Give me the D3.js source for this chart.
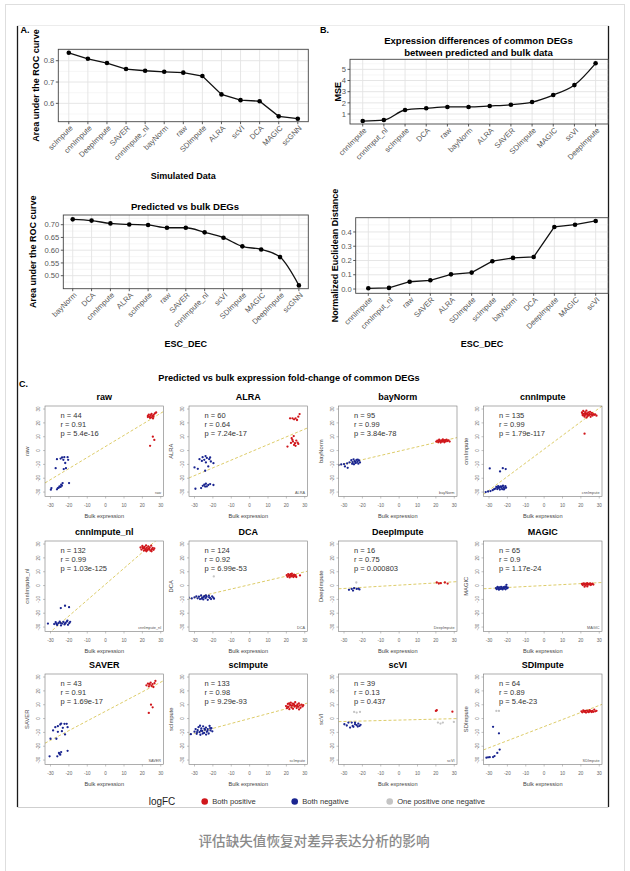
<!DOCTYPE html>
<html><head><meta charset="utf-8">
<script src="https://cdn.jsdelivr.net/npm/d3@7"></script>
<style>
body{margin:0;background:#fff}
text{font-family:"Liberation Sans",Arial,Helvetica,sans-serif}
</style>
</head><body>
<svg id="c" width="630" height="871"></svg>
<script>
// ---------------- DATA ----------------
const simMethods = ["scImpute","cnnImpute","DeepImpute","SAVER","cnnImpute_nl","bayNorm","raw","SDImpute","ALRA","scVI","DCA","MAGIC","scGNN"];
const simAUC = [0.837,0.809,0.789,0.761,0.753,0.748,0.744,0.728,0.642,0.615,0.610,0.539,0.528];
const simTicks = [0.6,0.7,0.8];
const simMinor = [0.55,0.65,0.75,0.85];

const mseMethods = ["cnnImpute","cnnImput_nl","scImpute","DCA","raw","bayNorm","ALRA","SAVER","SDImpute","MAGIC","scVI","DeepImpute"];
const mseValues = [0.37,0.46,1.36,1.51,1.63,1.63,1.72,1.83,2.07,2.70,3.59,5.54];
const mseTicks = [1,2,3,4,5];
const mseMinor = [0.5,1.5,2.5,3.5,4.5,5.5];

const escMethods = ["bayNorm","DCA","cnnImpute","ALRA","scImpute","raw","SAVER","cnnImpute_nl","scVI","SDImpute","MAGIC","DeepImpute","scGNN"];
const escAUC = [0.721,0.716,0.705,0.701,0.699,0.688,0.688,0.670,0.649,0.615,0.603,0.573,0.462];
const escTicks = [0.50,0.55,0.60,0.65,0.70];
const escMinor = [0.475,0.525,0.575,0.625,0.675,0.725];

const distMethods = ["cnnImpute","cnnImput_nl","raw","SAVER","ALRA","SDImpute","scImpute","bayNorm","DCA","DeepImpute","MAGIC","scVI"];
const distValues = [0.005,0.008,0.051,0.061,0.103,0.115,0.195,0.218,0.225,0.435,0.451,0.477];
const distTicks = [0.0,0.1,0.2,0.3,0.4];
const distMinor = [0.05,0.15,0.25,0.35,0.45];

const scNames = ["raw","ALRA","bayNorm","cnnImpute","cnnImpute_nl","DCA","DeepImpute","MAGIC","SAVER","scImpute","scVI","SDImpute"];
const scN = [44,60,95,135,132,124,16,65,43,133,39,64];
const scR = ["0.91","0.64","0.99","0.99","0.99","0.92","0.75","0.9","0.91","0.98","0.13","0.89"];
const scP = ["5.4e-16","7.24e-17","3.84e-78","1.79e-117","1.03e-125","6.99e-53","0.000803","1.17e-24","1.69e-17","9.29e-93","0.437","5.4e-23"];
const fitSlope = [0.8,0.56,0.31,0.99,1.15,0.31,0.08,0.07,0.7,0.355,0.034,0.51];
const fitIntercept = [3,-1.3,-0.4,1,1,0.6,0.3,0,5.3,0,-1.1,-5.8];
const scTicks = [-30,-20,-10,0,10,20,30];

const posPoints = [
 [[23,25],[23.5,26],[24,24.5],[24.5,25.5],[25,24],[25,26.5],[25.5,25],[26,24.5],[26.2,25.8],[26.8,26.8],[27.5,27.5],[24.2,23.6],[23,24.2],[25.8,23.2],[25.7,10],[26.5,7.7],[24.2,3.4]],
 [[22,23.3],[24.2,22.6],[25,23.3],[26.5,24.5],[27.2,26.4],[25.8,22.1],[23.3,23.3],[20.6,2.9],[22.9,8.9],[23.6,6.5],[24.7,5.3],[25.4,7.2],[26.1,5.8],[24.2,4.1],[23.3,7.7],[25,3.4],[26.5,4.8],[24,10.5],[22.5,5.5]],
 [[20.2,6.5],[20.8,7.2],[21.3,6],[21.8,7.8],[22.2,6.8],[22.6,5.8],[23,7.4],[23.4,6.4],[23.8,8],[24.2,7],[24.6,6],[25,7.6],[25.4,6.6],[25.8,7.9],[26.3,6.9],[26.9,7.4],[22,7.1],[23.6,7],[24.8,7.2],[21.5,6.7],[27.5,6.5]],
 [[20.6,27.5],[21,25.5],[21.3,28.6],[21.7,26.5],[22,24.5],[22.3,27.8],[22.7,25.8],[23,28.9],[23.3,26.9],[23.6,24.8],[24,27.6],[24.3,25.6],[24.7,26.6],[25,28],[25.3,24.4],[25.7,26.2],[26,27.3],[26.4,25.3],[26.8,26.4],[27.3,25.8],[27.8,26.1],[22.5,26.8],[23.8,26.2],[24.9,25.9],[21.8,25.3],[20.9,26.6],[23.1,23.8],[26,25.8],[28.5,25.2],[22,12.2]],
 [[19,27.5],[19.5,26],[20,28.6],[20.4,26.8],[20.8,25.3],[21.2,28],[21.6,26.4],[22,29],[22.4,27.3],[22.8,25.6],[23.2,28.3],[23.6,26.6],[24,27.6],[24.4,25.2],[24.8,28.8],[25.2,26.3],[25.6,27.3],[26.1,25.8],[26.5,26.8],[21,27.2],[22.6,26.2],[23.9,26.1],[20.2,27.7],[25,24.8],[22.2,24.8],[21.5,25.5]],
 [[20.2,7.5],[20.6,6.3],[21,8.3],[21.4,7],[21.8,5.9],[22.2,7.8],[22.6,6.6],[23,8.6],[23.4,7.2],[23.8,6.1],[24.2,7.9],[24.6,6.8],[25,7.5],[25.4,6.2],[21.6,7.6],[23,6.9],[24,7.2],[22.4,8.2],[27.4,7.3]],
 [[20.5,2.2],[22.7,1.7],[24.9,2.2],[26.4,1.4],[21.6,1.5]],
 [[20.6,1.2],[21,0.4],[21.4,1.6],[21.8,0.7],[22.2,1.3],[22.6,0.2],[23,1.1],[23.4,1.7],[23.8,0.5],[24.2,1.2],[24.6,0.8],[25,1.5],[25.4,0.4],[25.8,1],[26.3,1.3],[26.8,0.7],[22,-0.8],[23.5,-0.6]],
 [[22.2,24],[23,25.3],[23.5,23.2],[24,24.5],[24.5,26],[25,23.6],[25.5,24.8],[26,22.8],[26.6,25.5],[27.1,27.2],[24.7,10],[25.6,8.1],[23.5,4.1],[23.8,25]],
 [[19.8,9],[20.3,7.5],[20.8,10.6],[21.2,8.4],[21.6,6.8],[22,9.8],[22.4,11.5],[22.8,8],[23.2,9.5],[23.6,7],[24,10.6],[24.4,8.6],[24.8,11.8],[25.2,9.2],[25.6,7.6],[26,10.2],[26.4,8.5],[26.8,11],[27.2,9.5],[27.7,7.8],[28.2,10],[28.8,8.8],[22.6,9.4],[24.2,9.8],[25.9,9],[21.5,11],[23.4,10.8],[26.9,6.6],[29.2,9.6],[20.8,8.6]],
 [[20,5.5],[20.5,6],[29,5]],
 [[20.3,5.2],[20.8,4.5],[21.3,5.9],[21.8,4.9],[22.3,5.5],[22.8,4.3],[23.3,5.8],[23.8,5],[24.3,4.6],[24.8,6],[25.3,5.3],[25.8,4.7],[26.3,5.6],[26.8,4.9],[27.3,6.5],[27.8,5.2],[28.5,5.6],[22,5.2],[24.5,5.4],[26,5.1]]
];
const negPoints = [
 [[-26.5,-6.2],[-23.7,-5],[-23,-6.7],[-22.5,-4.8],[-20.7,-4.8],[-20.4,-6.7],[-22,-9],[-27.2,-12.7],[-21.6,-12.7],[-22.8,-13.4],[-24.5,-5.8],[-29.8,-28.3],[-29.5,-27.1],[-26,-27.1],[-25.1,-25.9],[-24.2,-24.7],[-23.4,-23.5],[-24.5,-26.3],[-19.9,-23.5],[-25.5,-26.8],[-23.8,-25.4],[-26.5,-28]],
 [[-27.3,-6.2],[-25.6,-4.8],[-24.7,-6.7],[-23.3,-5.3],[-22,-6.2],[-21.1,-7.9],[-19.7,-9.1],[-23.8,-8.6],[-22.5,-11.5],[-30,-12.2],[-28.2,-13.2],[-24.2,-14.6],[-26,-7.5],[-24,-4],[-21.5,-5],[-26.4,-27.1],[-24.7,-24.7],[-23.8,-24],[-22.5,-24.9],[-21.5,-24.2],[-23.3,-25.9],[-19.7,-24.9],[-29.5,-27.6],[-25.5,-25.5],[-24.2,-26]],
 [[-26,-7],[-25.3,-8.4],[-24.8,-6.3],[-24.2,-7.6],[-23.6,-9],[-23.2,-6.8],[-22.7,-8.1],[-22.2,-9.5],[-21.8,-7.2],[-21.3,-8.6],[-25.6,-9.6],[-23.9,-8.2],[-22.5,-6.5],[-24.6,-9.9],[-27,-8.5],[-33,-10.5],[-31.5,-10],[-30,-9.8],[-29.5,-11.5],[-28.3,-9.3],[-28,-12.5]],
 [[-26.5,-27.5],[-26,-26.3],[-25.5,-27.8],[-25,-25.7],[-24.6,-27],[-24.1,-28.2],[-23.7,-25.9],[-23.3,-26.9],[-22.8,-27.9],[-22.4,-25.4],[-22,-26.6],[-21.5,-27.4],[-21.1,-25.8],[-20.7,-26.8],[-24.2,-26.4],[-23,-26],[-25.3,-26.7],[-21.9,-28.1],[-28,-28.6],[-29.2,-29.3],[-30.5,-29.6],[-31.8,-30],[-27.2,-27.9],[-29.6,-12.9],[-24,-15.1],[-22.5,-12.7],[-20.9,-13.4]],
 [[-31.4,-27.5],[-28,-27.8],[-27.2,-26.5],[-26.4,-28.5],[-25.7,-27.2],[-25,-26.1],[-24.3,-28.8],[-23.7,-27.5],[-23,-26.3],[-22.4,-28.1],[-21.8,-27],[-21.1,-26],[-20.5,-28.4],[-19.8,-27.2],[-19.3,-26.2],[-24.6,-27],[-22.1,-27.5],[-26.8,-27.6],[-20.8,-25.4],[-24.4,-16.3],[-22.1,-14.6],[-19.9,-15.6]],
 [[-30,-8.6],[-29,-7.8],[-28.3,-9.2],[-27.6,-8.1],[-27,-9.8],[-26.4,-7.2],[-25.8,-8.8],[-25.2,-10],[-24.6,-7.6],[-24,-9.1],[-23.4,-8.1],[-22.8,-10.3],[-22.2,-7.3],[-21.6,-8.9],[-21,-9.8],[-20.4,-7.9],[-19.8,-8.7],[-19.4,-9.5],[-26,-9.5],[-23.8,-7.2],[-22,-8.5],[-25,-8.2],[-33.2,-8.8],[-31.5,-9.3]],
 [[-27.3,-3.1],[-25.8,-2.4],[-24.5,-1.9],[-23.1,-2.4],[-22.2,-2.2],[-25.1,-3.6],[-21.6,-2.8]],
 [[-26.2,-1.8],[-25.8,-2.6],[-25.4,-1],[-25,-2.1],[-24.6,-3],[-24.2,-1.4],[-23.8,-2.4],[-23.4,-0.9],[-23,-1.9],[-22.6,-2.8],[-22.2,-1.2],[-21.8,-2.2],[-21.4,-1.6],[-21,-2.7],[-20.6,-1],[-20.2,-2],[-19.8,-1.5],[-24.8,-1.6],[-22.9,-2.3],[-21.2,-0.8],[-20.5,0.5]],
 [[-24.7,-4.3],[-24.2,-3.6],[-22.4,-3.8],[-21.2,-3.8],[-27.4,-6.2],[-26,-5.5],[-23.3,-6.7],[-20.7,-6.2],[-28.6,-8.6],[-26,-9.6],[-23.8,-9.1],[-22.1,-11.5],[-30,-14.6],[-26.8,-14.6],[-26.3,-27.3],[-25.4,-24.9],[-24.2,-24.2],[-24.7,-26.1],[-20.7,-23.3],[-30.5,-27.3],[-25,-25.6]],
 [[-30,-9.5],[-29.4,-7.6],[-28.8,-11],[-28.3,-8.4],[-27.8,-6.2],[-27.3,-9.8],[-26.8,-11.7],[-26.3,-7.2],[-25.8,-9],[-25.3,-5.6],[-24.8,-10.4],[-24.3,-8.1],[-23.8,-6.5],[-23.3,-9.6],[-22.8,-7.6],[-22.3,-10.8],[-21.8,-5.3],[-21.3,-8.6],[-20.8,-7],[-20.3,-9.2],[-26.5,-8.8],[-24.6,-7.4],[-22.9,-8.9],[-25.5,-10.8],[-28.6,-9.8],[-23.7,-11.6],[-21.5,-6.9],[-27,-5.2],[-32,-11.3]],
 [[-29.8,-4.1],[-27.6,-2.9],[-25.8,-2.9],[-25.3,-5.3],[-24,-4.1],[-23.1,-4.8],[-22.2,-3.6],[-21.6,-5.3],[-26.7,-6.5],[-24.9,-6],[-22.5,-5.8],[-24,-2.9],[-21,-4.5],[-28.5,-5]],
 [[-27.8,-6],[-24.6,-10.7],[-31.4,-28.3],[-29.6,-27.9],[-27,-27.1],[-25.5,-24.8],[-24.2,-22.4],[-27.8,-27.8],[-30.5,-28]]
];
const mixPoints = [
 [],[],[],[],[],
 [[-19.5,6.6]],
 [[-23.3,2.2]],
 [],[],[],
 [[-24.5,4.8],[-23.1,4.3],[-21.3,4.8],[21.1,-2.9],[22.5,-3.6],[23.8,-2.9],[29.8,-2.4]],
 [[-26,5.5],[-24.6,5.5]]
];
const legendLabels = ["Both positive","Both negative","One positive one negative"];
const legendColors = ["#d0161b","#1a2590","#c4c4c4"];

// ---------------- DRAW ----------------
const svg = d3.select("#c");

// frame
svg.append("rect").attr("x",5.5).attr("y",4.5).attr("width",619).attr("height",900)
  .attr("fill","#fff").attr("stroke","#dedede").attr("stroke-width",1);
svg.append("line").attr("x1",17).attr("x2",609).attr("y1",25.5).attr("y2",25.5).attr("stroke","#ececec");
svg.append("line").attr("x1",17.5).attr("x2",17.5).attr("y1",26).attr("y2",807).attr("stroke","#1a1a1a").attr("stroke-width",1.3);
svg.append("line").attr("x1",608.5).attr("x2",608.5).attr("y1",26).attr("y2",807).attr("stroke","#1a1a1a").attr("stroke-width",1.3);
svg.append("line").attr("x1",17.5).attr("x2",608.5).attr("y1",807.5).attr("y2",807.5).attr("stroke","#cfcfcf");

function txt(x,y,s,size,opt={}){
  const t = svg.append("text").attr("x",x).attr("y",y).text(s)
    .attr("font-size",size).attr("fill",opt.fill||"#000")
    .attr("font-weight",opt.bold?"bold":"normal")
    .attr("text-anchor",opt.anchor||"start");
  if(opt.rotate!=null) t.attr("transform",`rotate(${opt.rotate},${x},${y})`);
  if(opt.family) t.style("font-family",opt.family);
  return t;
}

function linePanel(c){
  const x = d3.scalePoint().domain(c.cats).range([c.x0,c.x1]).padding(c.pad);
  const y = d3.scaleLinear().domain(c.domain).range([c.y1,c.y0]);
  const g = svg.append("g");
  g.selectAll(null).data(c.minor.filter(d=>d>=c.domain[0]&&d<=c.domain[1])).join("line")
    .attr("x1",c.x0).attr("x2",c.x1).attr("y1",d=>y(d)).attr("y2",d=>y(d))
    .attr("stroke","#f0f0f0").attr("stroke-width",0.6);
  g.selectAll(null).data(c.ticks).join("line")
    .attr("x1",c.x0).attr("x2",c.x1).attr("y1",d=>y(d)).attr("y2",d=>y(d))
    .attr("stroke","#e3e3e3").attr("stroke-width",0.9);
  g.selectAll(null).data(c.cats).join("line")
    .attr("x1",d=>x(d)).attr("x2",d=>x(d)).attr("y1",c.y0).attr("y2",c.y1)
    .attr("stroke","#e3e3e3").attr("stroke-width",0.9);
  const pts = c.cats.map((m,i)=>[x(m),y(c.vals[i])]);
  g.append("path").attr("d",d3.line().curve(c.curve||d3.curveLinear)(pts))
    .attr("fill","none").attr("stroke","#111").attr("stroke-width",1.3);
  g.selectAll(null).data(pts).join("circle").attr("cx",d=>d[0]).attr("cy",d=>d[1]).attr("r",2.3).attr("fill","#000");
  g.append("rect").attr("x",c.x0).attr("y",c.y0).attr("width",c.x1-c.x0).attr("height",c.y1-c.y0)
    .attr("fill","none").attr("stroke","#444").attr("stroke-width",0.9);
  g.selectAll(null).data(c.ticks).join("line")
    .attr("x1",c.x0-2.5).attr("x2",c.x0).attr("y1",d=>y(d)).attr("y2",d=>y(d)).attr("stroke","#333").attr("stroke-width",0.8);
  g.selectAll(null).data(c.ticks).join("text")
    .attr("x",c.x0-4).attr("y",d=>y(d)).attr("dy","0.35em").attr("text-anchor","end")
    .attr("font-size",7.6).attr("fill","#555").text(d=>c.fmt(d));
  g.selectAll(null).data(c.cats).join("line")
    .attr("x1",d=>x(d)).attr("x2",d=>x(d)).attr("y1",c.y1).attr("y2",c.y1+2.5).attr("stroke","#333").attr("stroke-width",0.8);
  g.selectAll(null).data(c.cats).join("text")
    .attr("transform",d=>`translate(${x(d)+2.5},${c.y1+5}) rotate(-45)`)
    .attr("dy","0.35em").attr("text-anchor","end")
    .attr("font-size",7.6).attr("fill","#555").text(d=>d);
  if(c.ylab) txt(c.ylabX,(c.y0+c.y1)/2,c.ylab,9,{bold:true,anchor:"middle",rotate:-90});
  if(c.xlab) txt((c.x0+c.x1)/2,c.xlabY,c.xlab,9,{bold:true,anchor:"middle"});
}

// Panel A (top)
txt(20.5,33.3,"A.",9,{bold:true});
linePanel({x0:58.3,x1:308.3,y0:49.3,y1:121.7,cats:simMethods,vals:simAUC,domain:[0.514,0.8535],
  ticks:simTicks,minor:simMinor,fmt:d3.format(".1f"),pad:0.55,
  ylab:"Area under the ROC curve",ylabX:38.5,xlab:"Simulated Data",xlabY:179});
// Panel B (top)
txt(320,32.7,"B.",9,{bold:true});
txt(478.5,44,"Expression differences of common DEGs",9.6,{bold:true,anchor:"middle"});
txt(478.5,55.6,"between predicted and bulk data",9.6,{bold:true,anchor:"middle"});
linePanel({x0:350,x1:608.3,y0:59.3,y1:124,cats:mseMethods,vals:mseValues,domain:[0.105,5.9],
  ticks:mseTicks,minor:mseMinor,fmt:d3.format("d"),pad:0.6,curve:d3.curveMonotoneX,
  ylab:"MSE",ylabX:341.5});
// Panel A bottom
txt(185,210,"Predicted vs bulk DEGs",9.6,{bold:true,anchor:"middle"});
linePanel({x0:63.3,x1:308.3,y0:215,y1:288.7,cats:escMethods,vals:escAUC,domain:[0.449,0.738],
  ticks:escTicks,minor:escMinor,fmt:d3.format(".2f"),pad:0.5,curve:d3.curveMonotoneX,
  ylab:"Area under the ROC curve",ylabX:36.5,xlab:"ESC_DEC",xlabY:347.3});
// Panel B bottom
linePanel({x0:355.7,x1:608.3,y0:217.7,y1:293.3,cats:distMethods,vals:distValues,domain:[-0.03,0.5],
  ticks:distTicks,minor:distMinor,fmt:d3.format(".1f"),pad:0.61,
  ylab:"Normalized Euclidean Distance",ylabX:337.5,xlab:"ESC_DEC",xlabY:347.3});

// Panel C
txt(19,386.7,"C.",9,{bold:true});
txt(289,380.5,"Predicted vs bulk expression fold-change of common DEGs",9.2,{bold:true,anchor:"middle"});

const colLeft = [45,189,338.5,483.5], rowTop = [406,541,674], boxW = 118.5, boxH = 90.5;
const defs = svg.append("defs");

scNames.forEach((name,i)=>{
  const bx = colLeft[i%4], by = rowTop[Math.floor(i/4)];
  const x = d3.scaleLinear().domain([-33,31.5]).range([bx,bx+boxW]);
  const y = d3.scaleLinear().domain([-33.2,32.2]).range([by+boxH,by]);
  const g = svg.append("g");
  defs.append("clipPath").attr("id","cp"+i).append("rect").attr("x",bx).attr("y",by).attr("width",boxW).attr("height",boxH);
  const xs = x.domain();
  g.append("line").attr("clip-path",`url(#cp${i})`)
    .attr("x1",x(xs[0])).attr("y1",y(fitSlope[i]*xs[0]+fitIntercept[i]))
    .attr("x2",x(xs[1])).attr("y2",y(fitSlope[i]*xs[1]+fitIntercept[i]))
    .attr("stroke","#ddcc6a").attr("stroke-width",1).attr("stroke-dasharray","3,2");
  const groups = [[mixPoints[i],legendColors[2]],[negPoints[i],legendColors[1]],[posPoints[i],legendColors[0]]];
  groups.forEach(([pts,col])=>{
    g.selectAll(null).data(pts).join("circle").attr("clip-path",`url(#cp${i})`)
      .attr("cx",d=>x(d[0])).attr("cy",d=>y(d[1])).attr("r",1.15).attr("fill",col);
  });
  g.append("rect").attr("x",bx).attr("y",by).attr("width",boxW).attr("height",boxH)
    .attr("fill","none").attr("stroke","#777").attr("stroke-width",0.6);
  g.selectAll(null).data(scTicks).join("line")
    .attr("x1",d=>x(d)).attr("x2",d=>x(d)).attr("y1",by+boxH).attr("y2",by+boxH+2).attr("stroke","#888").attr("stroke-width",0.5);
  g.selectAll(null).data(scTicks).join("text")
    .attr("x",d=>x(d)).attr("y",by+boxH+10).attr("text-anchor","middle")
    .attr("font-size",4.6).attr("fill","#666").text(d=>d);
  g.selectAll(null).data(scTicks).join("line")
    .attr("x1",bx-2).attr("x2",bx).attr("y1",d=>y(d)).attr("y2",d=>y(d)).attr("stroke","#888").attr("stroke-width",0.5);
  g.selectAll(null).data(scTicks).join("text")
    .attr("transform",d=>`translate(${bx-5},${y(d)}) rotate(-90)`).attr("text-anchor","middle")
    .attr("font-size",4.6).attr("fill","#666").text(d=>d);
  txt(bx+boxW/2,by+boxH+21,"Bulk expression",5.6,{anchor:"middle",fill:"#444"});
  txt(bx-16,by+boxH/2,name,5.8,{anchor:"middle",fill:"#444",rotate:-90});
  txt(bx+boxW/2,by-6.5,name,9,{bold:true,anchor:"middle"});
  txt(bx+15.5,by+11.7,"n = "+scN[i],7.5,{fill:"#333"});
  txt(bx+15.5,by+21,"r = "+scR[i],7.5,{fill:"#333"});
  txt(bx+15.5,by+30,"p = "+scP[i],7.5,{fill:"#333"});
  txt(bx+boxW-2.5,by+boxH-2.5,name,3.8,{anchor:"end",fill:"#555"});
});

// legend
txt(162,805,"logFC",10,{anchor:"middle",fill:"#222"});
const legX = [204.7,294.7,389.7];
legendLabels.forEach((l,i)=>{
  svg.append("circle").attr("cx",legX[i]).attr("cy",801.5).attr("r",3.3).attr("fill",legendColors[i]);
  txt(legX[i]+7.5,804.3,l,7.6,{fill:"#333"});
});

// caption
txt(314,845.5,"评估缺失值恢复对差异表达分析的影响",13.6,{anchor:"middle",fill:"#8a8a8a",family:'"Noto Sans CJK SC",sans-serif'}).attr("font-weight",500);
</script>
</body></html>
